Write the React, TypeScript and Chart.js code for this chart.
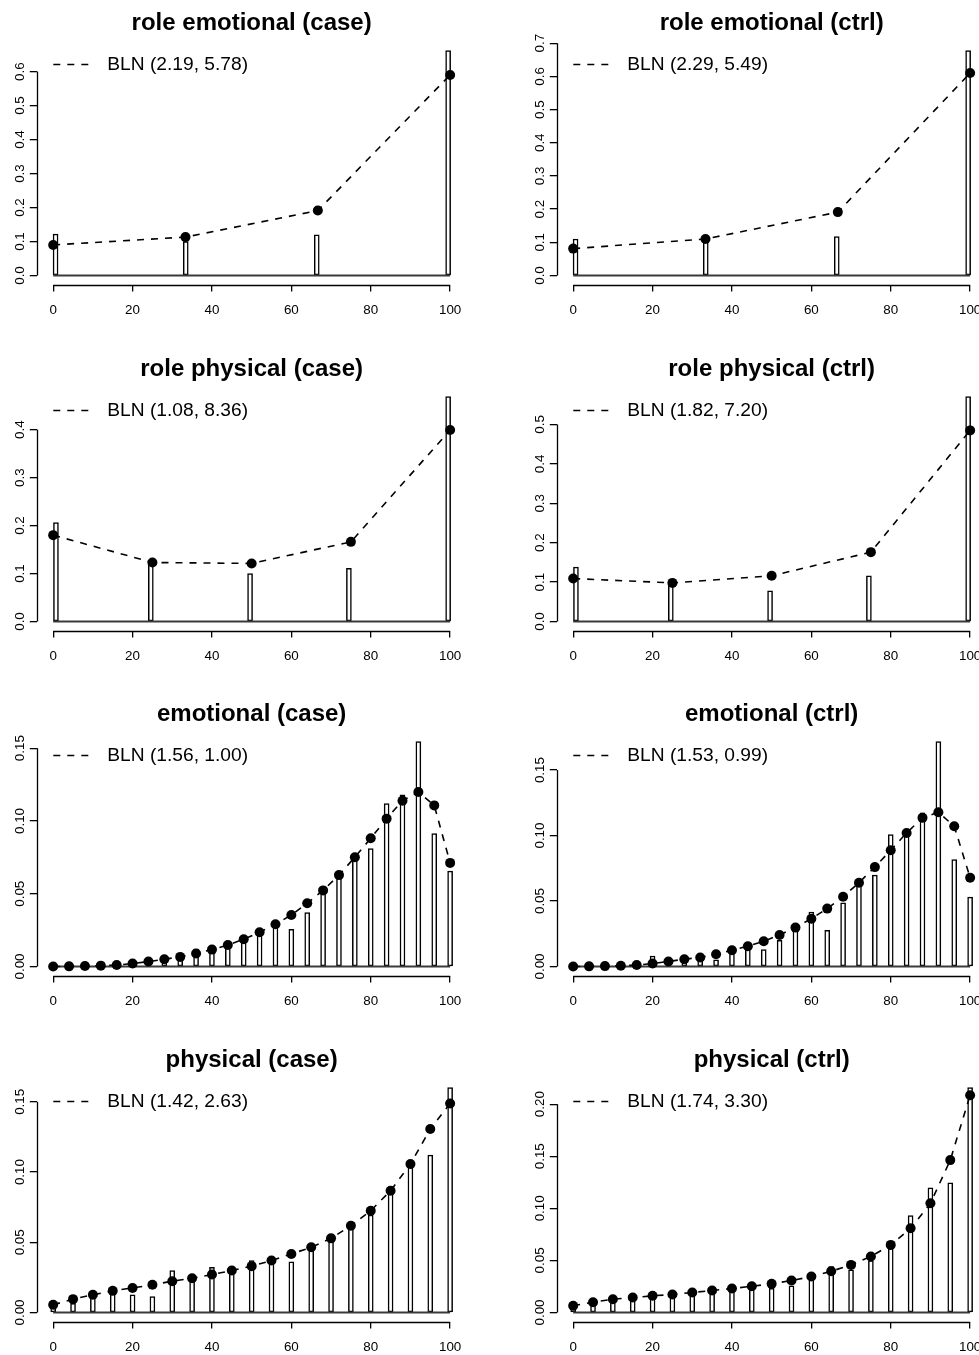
import React, { useEffect, useRef } from 'react';
import { Chart, registerables } from 'chart.js';

Chart.register(...registerables);

const FONT = '"Liberation Sans", Arial, Helvetica, sans-serif';

// ---------- shared axis data ----------
const xTicks = [0, 20, 40, 60, 80, 100];

const titles = [
  'role emotional (case)', 'role emotional (ctrl)',
  'role physical (case)', 'role physical (ctrl)',
  'emotional (case)', 'emotional (ctrl)',
  'physical (case)', 'physical (ctrl)',
];
const legendLabels = [
  'BLN (2.19, 5.78)', 'BLN (2.29, 5.49)',
  'BLN (1.08, 8.36)', 'BLN (1.82, 7.20)',
  'BLN (1.56, 1.00)', 'BLN (1.53, 0.99)',
  'BLN (1.42, 2.63)', 'BLN (1.74, 3.30)',
];

// ---------- role emotional ----------
const rePtX = [0, 33.33, 66.67, 100];
const reBarX = [0.6, 33.4, 66.4, 99.5];
const reCaseBarY = [0.122, 0.100, 0.120, 0.662];
const reCasePtY = [0.090, 0.113, 0.191, 0.590];
const reCtrlBarY = [0.110, 0.102, 0.117, 0.678];
const reCtrlPtY = [0.081, 0.110, 0.191, 0.610];
const reCaseYTicks = [0, 0.1, 0.2, 0.3, 0.4, 0.5, 0.6];
const reCtrlYTicks = [0, 0.1, 0.2, 0.3, 0.4, 0.5, 0.6, 0.7];

// ---------- role physical ----------
const rpPtX = [0, 25, 50, 75, 100];
const rpBarX = [0.7, 24.6, 49.6, 74.5, 99.5];
const rpCaseBarY = [0.206, 0.120, 0.100, 0.111, 0.469];
const rpCasePtY = [0.180, 0.123, 0.121, 0.166, 0.399];
const rpCtrlBarY = [0.138, 0.100, 0.078, 0.116, 0.571];
const rpCtrlPtY = [0.109, 0.098, 0.116, 0.176, 0.485];
const rpCaseYTicks = [0, 0.1, 0.2, 0.3, 0.4];
const rpCtrlYTicks = [0, 0.1, 0.2, 0.3, 0.4, 0.5];

// ---------- emotional ----------
const emoX = [0, 4, 8, 12, 16, 20, 24, 28, 32, 36, 40, 44, 48, 52, 56, 60, 64, 68, 72, 76, 80, 84, 88, 92, 96, 100];
const emoCaseBarY = [0, 0, 0, 0, 0, 0, 0.002, 0.005, 0.005, 0.012, 0.012, 0.013, 0.019, 0.024, 0.029, 0.0256, 0.037, 0.050, 0.062, 0.074, 0.081, 0.112, 0.118, 0.1546, 0.0913, 0.0655];
const emoCasePtY = [0, 0.0001, 0.0003, 0.0006, 0.001, 0.002, 0.0034, 0.005, 0.0066, 0.0089, 0.0116, 0.0148, 0.0187, 0.0235, 0.029, 0.0354, 0.0434, 0.0523, 0.0628, 0.0751, 0.0881, 0.1016, 0.1139, 0.1199, 0.1107, 0.0712];
const emoCtrlBarY = [0, 0, 0, 0, 0, 0.008, 0.002, 0.003, 0.005, 0.005, 0.014, 0.013, 0.013, 0.020, 0.028, 0.0416, 0.0277, 0.0487, 0.064, 0.0698, 0.1008, 0.1046, 0.1173, 0.1718, 0.0817, 0.053];
const emoCtrlPtY = [0, 0.0001, 0.0003, 0.0006, 0.0011, 0.0023, 0.0038, 0.0056, 0.0069, 0.0094, 0.0124, 0.0155, 0.0193, 0.0241, 0.0297, 0.0365, 0.0442, 0.0533, 0.064, 0.0759, 0.0888, 0.102, 0.1135, 0.1178, 0.1071, 0.0678];
const emoYTicks = [0, 0.05, 0.1, 0.15];

// ---------- physical ----------
const physX = [0, 5, 10, 15, 20, 25, 30, 35, 40, 45, 50, 55, 60, 65, 70, 75, 80, 85, 90, 95, 100];
const physCaseBarY = [0.004, 0.0066, 0.011, 0.0137, 0.0126, 0.0114, 0.0299, 0.0232, 0.0322, 0.028, 0.037, 0.035, 0.036, 0.0445, 0.0505, 0.0611, 0.0694, 0.0872, 0.1033, 0.1121, 0.1602];
const physCasePtY = [0.0055, 0.0095, 0.0126, 0.0154, 0.0175, 0.0197, 0.0223, 0.0244, 0.027, 0.0299, 0.033, 0.037, 0.0417, 0.0464, 0.0528, 0.0618, 0.0725, 0.0867, 0.1057, 0.1306, 0.1488];
const physCtrlBarY = [0.005, 0.0073, 0.0105, 0.0144, 0.0147, 0.0147, 0.0169, 0.0179, 0.0217, 0.0217, 0.0233, 0.0256, 0.0345, 0.0441, 0.0409, 0.0498, 0.0617, 0.093, 0.1198, 0.1246, 0.216];
const physCtrlPtY = [0.0064, 0.0099, 0.0128, 0.0144, 0.016, 0.0173, 0.0192, 0.0211, 0.023, 0.0252, 0.0275, 0.0307, 0.0345, 0.0396, 0.0457, 0.0537, 0.0649, 0.0808, 0.1048, 0.1463, 0.2086];
const physCaseYTicks = [0, 0.05, 0.1, 0.15];
const physCtrlYTicks = [0, 0.05, 0.1, 0.15, 0.2];

type PanelDef = {
  barX: number[]; barY: number[]; ptX: number[]; ptY: number[];
  yTicks: number[]; yDec: number;
};

const panels: PanelDef[] = [
  { barX: reBarX, barY: reCaseBarY, ptX: rePtX, ptY: reCasePtY, yTicks: reCaseYTicks, yDec: 1 },
  { barX: reBarX, barY: reCtrlBarY, ptX: rePtX, ptY: reCtrlPtY, yTicks: reCtrlYTicks, yDec: 1 },
  { barX: rpBarX, barY: rpCaseBarY, ptX: rpPtX, ptY: rpCasePtY, yTicks: rpCaseYTicks, yDec: 1 },
  { barX: rpBarX, barY: rpCtrlBarY, ptX: rpPtX, ptY: rpCtrlPtY, yTicks: rpCtrlYTicks, yDec: 1 },
  { barX: emoX, barY: emoCaseBarY, ptX: emoX, ptY: emoCasePtY, yTicks: emoYTicks, yDec: 2 },
  { barX: emoX, barY: emoCtrlBarY, ptX: emoX, ptY: emoCtrlPtY, yTicks: emoYTicks, yDec: 2 },
  { barX: physX, barY: physCaseBarY, ptX: physX, ptY: physCasePtY, yTicks: physCaseYTicks, yDec: 2 },
  { barX: physX, barY: physCtrlBarY, ptX: physX, ptY: physCtrlPtY, yTicks: physCtrlYTicks, yDec: 2 },
];

const PANEL_W = 520;
const PANEL_H = 346;
const rowTops = [0, 346, 691, 1037];

function Panel({ idx }: { idx: number }) {
  const ref = useRef<HTMLCanvasElement>(null);
  useEffect(() => {
    const p = panels[idx];
    const ymax = Math.max(...p.barY, ...p.ptY);
    const rPlugin = {
      id: 'rAxes',
      afterDraw(chart: any) {
        const { ctx, chartArea } = chart;
        const xs = chart.scales.x;
        const ys = chart.scales.y;
        ctx.save();
        ctx.strokeStyle = '#000';
        ctx.lineWidth = 1.3;
        ctx.setLineDash([]);
        // x axis line
        const yb = Math.round(chartArea.bottom) + 0.5;
        ctx.beginPath();
        ctx.moveTo(xs.getPixelForValue(xTicks[0]), yb);
        ctx.lineTo(xs.getPixelForValue(xTicks[xTicks.length - 1]), yb);
        ctx.stroke();
        // y axis line
        const xl = Math.round(chartArea.left) + 0.5;
        ctx.beginPath();
        ctx.moveTo(xl, ys.getPixelForValue(p.yTicks[0]));
        ctx.lineTo(xl, ys.getPixelForValue(p.yTicks[p.yTicks.length - 1]));
        ctx.stroke();
        // y tick labels (rotated)
        ctx.fillStyle = '#000';
        ctx.font = `13.4px ${FONT}`;
        ctx.textAlign = 'center';
        ctx.textBaseline = 'middle';
        for (const v of p.yTicks) {
          const py = ys.getPixelForValue(v);
          ctx.save();
          ctx.translate(chartArea.left - 16.5, py);
          ctx.rotate(-Math.PI / 2);
          ctx.fillText(v.toFixed(p.yDec), 0, 0);
          ctx.restore();
        }
        // legend
        const ly = chartArea.top + 23;
        ctx.lineWidth = 1.6;
        ctx.setLineDash([7, 7]);
        ctx.beginPath();
        ctx.moveTo(chartArea.left + 16, ly);
        ctx.lineTo(chartArea.left + 53, ly);
        ctx.stroke();
        ctx.setLineDash([]);
        ctx.textAlign = 'left';
        ctx.font = `19.2px ${FONT}`;
        ctx.fillText(legendLabels[idx], chartArea.left + 70, ly);
        ctx.restore();
      },
    };

    const chart = new Chart(ref.current as HTMLCanvasElement, {
      type: 'bar',
      data: {
        datasets: [
          {
            type: 'line',
            data: p.ptX.map((x, i) => ({ x, y: p.ptY[i] })),
            borderColor: '#000',
            borderWidth: 1.6,
            borderDash: [7, 7],
            pointRadius: 5,
            pointHoverRadius: 5,
            pointBackgroundColor: '#000',
            pointBorderWidth: 0,
            tension: 0,
            fill: false,
            order: 0,
          } as any,
          {
            type: 'line',
            data: [{ x: xTicks[0], y: 0 }, { x: xTicks[xTicks.length - 1], y: 0 }],
            borderColor: '#3a3a3a',
            borderWidth: 2.2,
            pointRadius: 0,
            fill: false,
            order: 1,
          } as any,
          {
            type: 'bar',
            data: p.barX.map((x, i) => ({ x, y: p.barY[i] })),
            backgroundColor: '#fff',
            borderColor: '#000',
            borderWidth: 1.5,
            borderSkipped: false,
            barThickness: 5,
            order: 2,
          } as any,
        ],
      },
      options: {
        responsive: false,
        animation: false,
        devicePixelRatio: 1,
        events: [],
        layout: { padding: { left: 0, right: 54, top: 0, bottom: 0 } },
        plugins: {
          legend: { display: false },
          tooltip: { enabled: false },
          title: {
            display: true,
            text: titles[idx],
            color: '#000',
            font: { family: FONT, size: 24, weight: 'bold' },
            padding: { top: 9.0, bottom: 3.7 },
            fullSize: false,
          },
        },
        scales: {
          x: {
            type: 'linear',
            min: -4,
            max: 104,
            offset: false,
            afterBuildTicks: (s: any) => { s.ticks = xTicks.map((v) => ({ value: v })); },
            afterFit: (s: any) => { s.height = 61.5; },
            grid: {
              display: true,
              drawOnChartArea: false,
              drawTicks: true,
              tickLength: 7,
              color: '#000',
              lineWidth: 1.3,
              offset: false,
            },
            border: { display: false },
            ticks: {
              color: '#000',
              font: { family: FONT, size: 13.4 },
              padding: 10.5,
              maxRotation: 0,
              minRotation: 0,
              autoSkip: false,
            },
          },
          y: {
            type: 'linear',
            min: -0.04 * ymax,
            max: 1.04 * ymax,
            afterBuildTicks: (s: any) => { s.ticks = p.yTicks.map((v) => ({ value: v })); },
            afterFit: (s: any) => { s.width = 37.3; },
            grid: {
              display: true,
              drawOnChartArea: false,
              drawTicks: true,
              tickLength: 7.5,
              color: '#000',
              lineWidth: 1.3,
            },
            border: { display: false },
            ticks: { display: false },
          },
        },
      } as any,
      plugins: [rPlugin],
    });
    return () => chart.destroy();
  }, [idx]);

  const col = idx % 2;
  const row = Math.floor(idx / 2);
  return (
    <canvas
      ref={ref}
      width={PANEL_W}
      height={PANEL_H}
      style={{ position: 'absolute', left: col * PANEL_W, top: rowTops[row], width: PANEL_W, height: PANEL_H }}
    />
  );
}

export default function App() {
  return (
    <div style={{ position: 'absolute', left: 0, top: 0, width: 979, height: 1355, overflow: 'hidden', background: '#fff' }}>
      {panels.map((_, i) => (
        <Panel key={i} idx={i} />
      ))}
    </div>
  );
}
